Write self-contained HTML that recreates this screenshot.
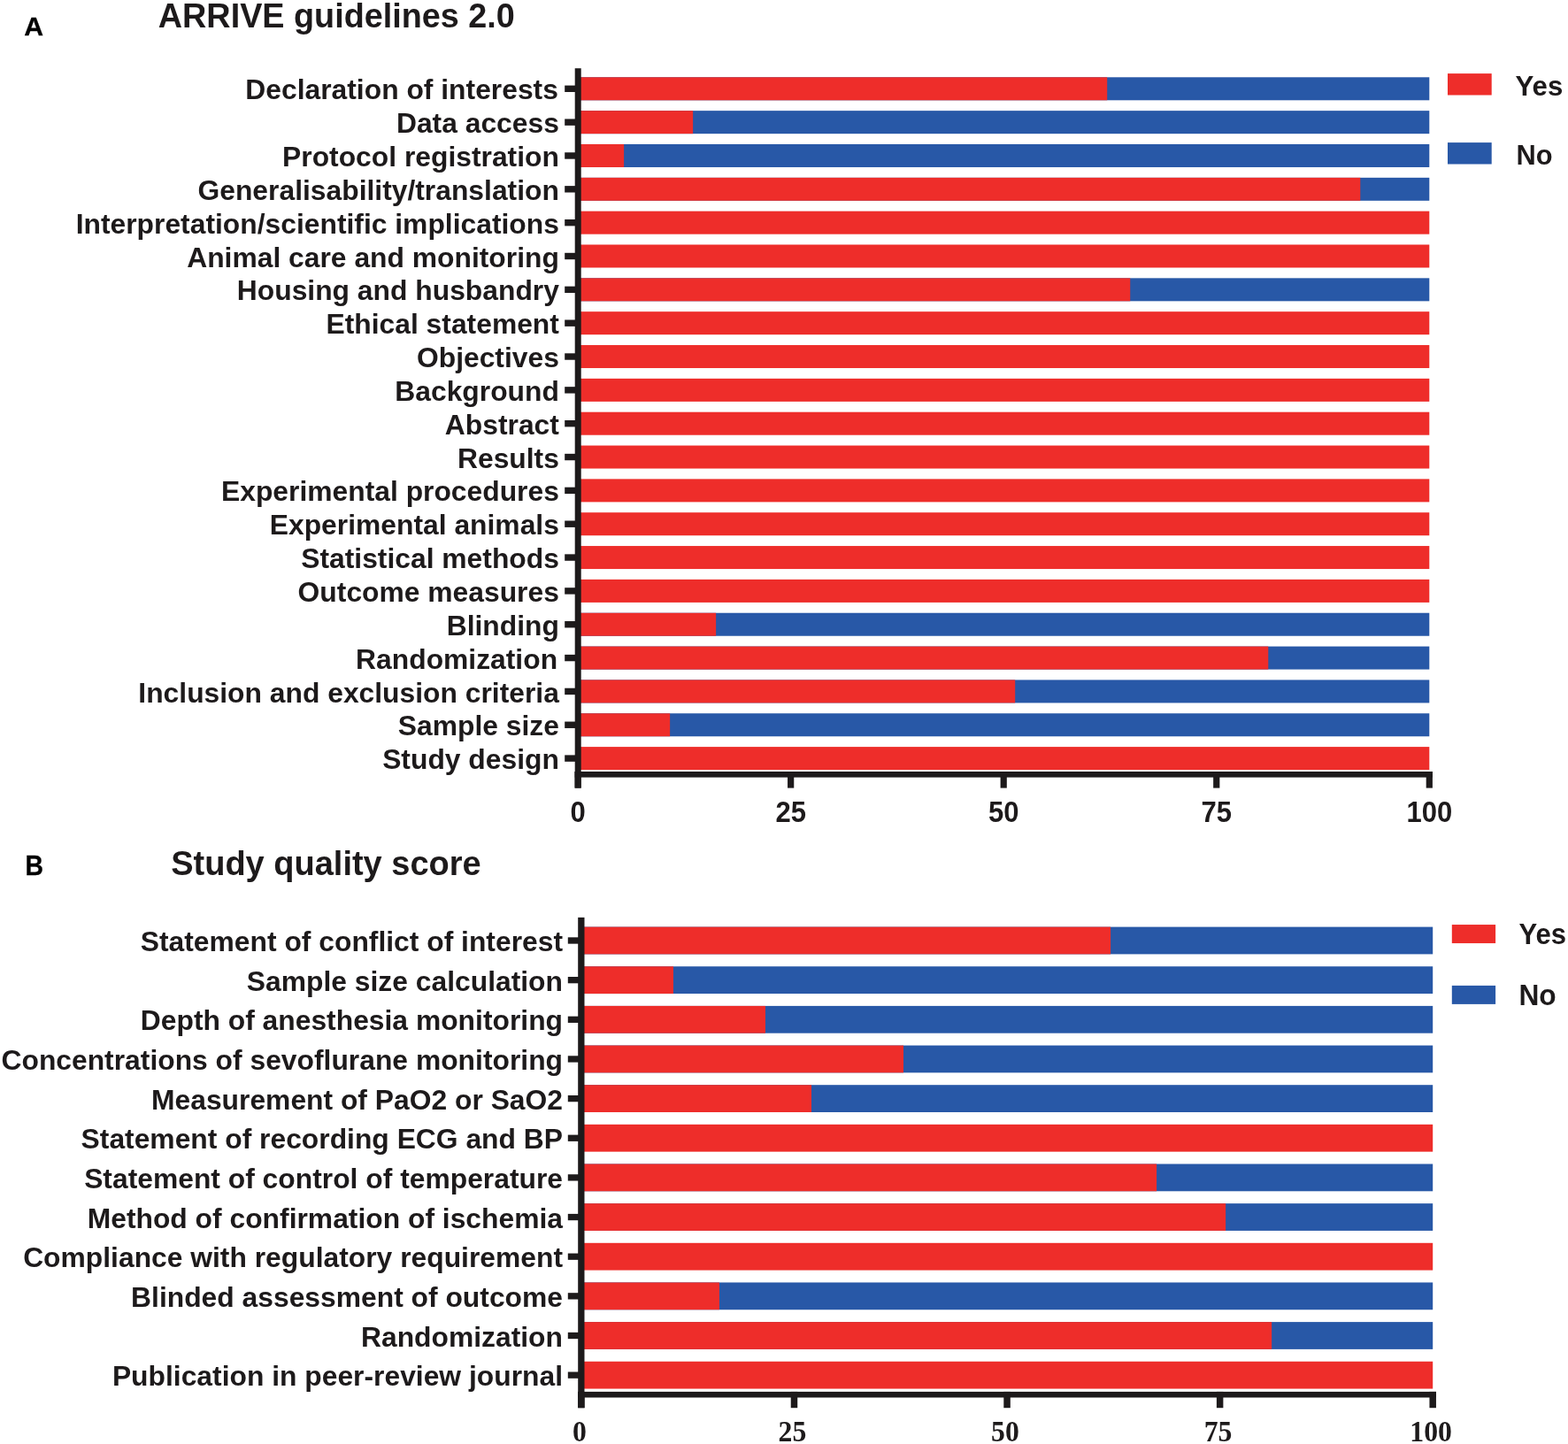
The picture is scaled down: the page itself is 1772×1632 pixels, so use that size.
<!DOCTYPE html>
<html lang="en">
<head>
<meta charset="utf-8">
<title>ARRIVE guidelines 2.0 / Study quality score</title>
<style>
html,body{margin:0;padding:0;background:#fff;}
body{width:1772px;height:1632px;overflow:hidden;}
svg{display:block;}
text{fill:#1d1a1b;white-space:pre;}
.s{font-family:"Liberation Sans",Arial,Helvetica,sans-serif;font-weight:bold;}
.t{font-family:"Liberation Serif","Times New Roman",Times,serif;font-weight:bold;}
</style>
</head>
<body>
<svg width="1772" height="1632" viewBox="0 0 1772 1632">
<rect x="0" y="0" width="1772" height="1632" fill="#ffffff"/>
<text transform="translate(27.30 39.85) scale(1.02 1.01)" font-size="29.6" class="s" style="fill:#000;stroke:#000;stroke-width:0.3px">A</text>
<text transform="translate(178.80 30.50) scale(1.0 1.02)" font-size="37.8" class="s">ARRIVE guidelines 2.0</text>
<rect x="655.70" y="87.30" width="959.60" height="26.00" fill="#2858a7"/>
<rect x="655.70" y="87.30" width="595.52" height="26.00" fill="#ee2d2a"/>
<rect x="638.20" y="96.60" width="12.50" height="7.40" fill="#1d1a1b"/>
<text x="630.90" y="112.40" font-size="31.82" class="s" text-anchor="end">Declaration of interests</text>
<rect x="655.70" y="125.14" width="959.60" height="26.00" fill="#2858a7"/>
<rect x="655.70" y="125.14" width="127.43" height="26.00" fill="#ee2d2a"/>
<rect x="638.20" y="134.44" width="12.50" height="7.40" fill="#1d1a1b"/>
<text x="631.90" y="150.24" font-size="31.82" class="s" text-anchor="end">Data access</text>
<rect x="655.70" y="162.98" width="959.60" height="26.00" fill="#2858a7"/>
<rect x="655.70" y="162.98" width="49.41" height="26.00" fill="#ee2d2a"/>
<rect x="638.20" y="172.28" width="12.50" height="7.40" fill="#1d1a1b"/>
<text x="631.90" y="188.08" font-size="31.82" class="s" text-anchor="end">Protocol registration</text>
<rect x="655.70" y="200.82" width="959.60" height="26.00" fill="#2858a7"/>
<rect x="655.70" y="200.82" width="881.58" height="26.00" fill="#ee2d2a"/>
<rect x="638.20" y="210.12" width="12.50" height="7.40" fill="#1d1a1b"/>
<text x="631.90" y="225.92" font-size="31.82" class="s" text-anchor="end">Generalisability/translation</text>
<rect x="655.70" y="238.66" width="959.60" height="26.00" fill="#ee2d2a"/>
<rect x="638.20" y="247.96" width="12.50" height="7.40" fill="#1d1a1b"/>
<text x="631.90" y="263.76" font-size="31.82" class="s" text-anchor="end">Interpretation/scientific implications</text>
<rect x="655.70" y="276.50" width="959.60" height="26.00" fill="#ee2d2a"/>
<rect x="638.20" y="285.80" width="12.50" height="7.40" fill="#1d1a1b"/>
<text x="631.90" y="301.60" font-size="31.82" class="s" text-anchor="end">Animal care and monitoring</text>
<rect x="655.70" y="314.34" width="959.60" height="26.00" fill="#2858a7"/>
<rect x="655.70" y="314.34" width="621.53" height="26.00" fill="#ee2d2a"/>
<rect x="638.20" y="323.64" width="12.50" height="7.40" fill="#1d1a1b"/>
<text x="631.90" y="339.44" font-size="31.82" class="s" text-anchor="end">Housing and husbandry</text>
<rect x="655.70" y="352.18" width="959.60" height="26.00" fill="#ee2d2a"/>
<rect x="638.20" y="361.48" width="12.50" height="7.40" fill="#1d1a1b"/>
<text x="631.90" y="377.28" font-size="31.82" class="s" text-anchor="end">Ethical statement</text>
<rect x="655.70" y="390.02" width="959.60" height="26.00" fill="#ee2d2a"/>
<rect x="638.20" y="399.32" width="12.50" height="7.40" fill="#1d1a1b"/>
<text x="631.90" y="415.12" font-size="31.82" class="s" text-anchor="end">Objectives</text>
<rect x="655.70" y="427.86" width="959.60" height="26.00" fill="#ee2d2a"/>
<rect x="638.20" y="437.16" width="12.50" height="7.40" fill="#1d1a1b"/>
<text x="631.90" y="452.96" font-size="31.82" class="s" text-anchor="end">Background</text>
<rect x="655.70" y="465.70" width="959.60" height="26.00" fill="#ee2d2a"/>
<rect x="638.20" y="475.00" width="12.50" height="7.40" fill="#1d1a1b"/>
<text x="631.90" y="490.80" font-size="31.82" class="s" text-anchor="end">Abstract</text>
<rect x="655.70" y="503.54" width="959.60" height="26.00" fill="#ee2d2a"/>
<rect x="638.20" y="512.84" width="12.50" height="7.40" fill="#1d1a1b"/>
<text x="631.90" y="528.64" font-size="31.82" class="s" text-anchor="end">Results</text>
<rect x="655.70" y="541.38" width="959.60" height="26.00" fill="#ee2d2a"/>
<rect x="638.20" y="550.68" width="12.50" height="7.40" fill="#1d1a1b"/>
<text x="631.90" y="566.48" font-size="31.82" class="s" text-anchor="end">Experimental procedures</text>
<rect x="655.70" y="579.22" width="959.60" height="26.00" fill="#ee2d2a"/>
<rect x="638.20" y="588.52" width="12.50" height="7.40" fill="#1d1a1b"/>
<text x="631.90" y="604.32" font-size="31.82" class="s" text-anchor="end">Experimental animals</text>
<rect x="655.70" y="617.06" width="959.60" height="26.00" fill="#ee2d2a"/>
<rect x="638.20" y="626.36" width="12.50" height="7.40" fill="#1d1a1b"/>
<text x="631.90" y="642.16" font-size="31.82" class="s" text-anchor="end">Statistical methods</text>
<rect x="655.70" y="654.90" width="959.60" height="26.00" fill="#ee2d2a"/>
<rect x="638.20" y="664.20" width="12.50" height="7.40" fill="#1d1a1b"/>
<text x="631.90" y="680.00" font-size="31.82" class="s" text-anchor="end">Outcome measures</text>
<rect x="655.70" y="692.74" width="959.60" height="26.00" fill="#2858a7"/>
<rect x="655.70" y="692.74" width="153.43" height="26.00" fill="#ee2d2a"/>
<rect x="638.20" y="702.04" width="12.50" height="7.40" fill="#1d1a1b"/>
<text x="631.90" y="717.84" font-size="31.82" class="s" text-anchor="end">Blinding</text>
<rect x="655.70" y="730.58" width="959.60" height="26.00" fill="#2858a7"/>
<rect x="655.70" y="730.58" width="777.56" height="26.00" fill="#ee2d2a"/>
<rect x="638.20" y="739.88" width="12.50" height="7.40" fill="#1d1a1b"/>
<text x="630.10" y="755.68" font-size="31.82" class="s" text-anchor="end">Randomization</text>
<rect x="655.70" y="768.42" width="959.60" height="26.00" fill="#2858a7"/>
<rect x="655.70" y="768.42" width="491.50" height="26.00" fill="#ee2d2a"/>
<rect x="638.20" y="777.72" width="12.50" height="7.40" fill="#1d1a1b"/>
<text x="631.90" y="793.52" font-size="31.82" class="s" text-anchor="end">Inclusion and exclusion criteria</text>
<rect x="655.70" y="806.26" width="959.60" height="26.00" fill="#2858a7"/>
<rect x="655.70" y="806.26" width="101.42" height="26.00" fill="#ee2d2a"/>
<rect x="638.20" y="815.56" width="12.50" height="7.40" fill="#1d1a1b"/>
<text x="631.90" y="831.36" font-size="31.82" class="s" text-anchor="end">Sample size</text>
<rect x="655.70" y="844.10" width="959.60" height="26.00" fill="#ee2d2a"/>
<rect x="638.20" y="853.40" width="12.50" height="7.40" fill="#1d1a1b"/>
<text x="631.90" y="869.20" font-size="31.82" class="s" text-anchor="end">Study design</text>
<rect x="649.70" y="77.20" width="7.00" height="813.40" fill="#1d1a1b"/>
<rect x="649.70" y="872.00" width="969.20" height="6.60" fill="#1d1a1b"/>
<rect x="649.50" y="872.00" width="7.20" height="18.60" fill="#1d1a1b"/>
<text transform="translate(653.10 929.00) scale(1.0 1.05)" font-size="31.0" class="s" text-anchor="middle">0</text>
<rect x="890.05" y="872.00" width="7.20" height="18.60" fill="#1d1a1b"/>
<text transform="translate(893.65 929.00) scale(1.0 1.05)" font-size="31.0" class="s" text-anchor="middle">25</text>
<rect x="1130.60" y="872.00" width="7.20" height="18.60" fill="#1d1a1b"/>
<text transform="translate(1134.20 929.00) scale(1.0 1.05)" font-size="31.0" class="s" text-anchor="middle">50</text>
<rect x="1371.15" y="872.00" width="7.20" height="18.60" fill="#1d1a1b"/>
<text transform="translate(1374.75 929.00) scale(1.0 1.05)" font-size="31.0" class="s" text-anchor="middle">75</text>
<rect x="1611.70" y="872.00" width="7.20" height="18.60" fill="#1d1a1b"/>
<text transform="translate(1615.30 929.00) scale(1.0 1.05)" font-size="31.0" class="s" text-anchor="middle">100</text>
<rect x="1636" y="83.1" width="49.7" height="24.4" fill="#ee2d2a"/>
<rect x="1636" y="161.1" width="49.7" height="24.4" fill="#2858a7"/>
<text transform="translate(1712.50 107.70) scale(0.985 1.015)" font-size="31.7" class="s">Yes</text>
<text transform="translate(1713.60 185.80) scale(0.972 1.015)" font-size="31.7" class="s">No</text>
<text transform="translate(28.60 988.75) scale(0.96 1.03)" font-size="29.6" class="s" style="fill:#000;stroke:#000;stroke-width:0.3px">B</text>
<text transform="translate(193.20 988.50) scale(1.0 1.02)" font-size="38" class="s">Study quality score</text>
<rect x="659.50" y="1047.60" width="959.70" height="30.80" fill="#2858a7"/>
<rect x="659.50" y="1047.60" width="595.59" height="30.80" fill="#ee2d2a"/>
<rect x="641.80" y="1059.35" width="12.40" height="7.30" fill="#1d1a1b"/>
<text x="636.00" y="1075.00" font-size="31.82" class="s" text-anchor="end">Statement of conflict of interest</text>
<rect x="659.50" y="1092.25" width="959.70" height="30.80" fill="#2858a7"/>
<rect x="659.50" y="1092.25" width="101.43" height="30.80" fill="#ee2d2a"/>
<rect x="641.80" y="1104.00" width="12.40" height="7.30" fill="#1d1a1b"/>
<text x="636.00" y="1119.65" font-size="31.82" class="s" text-anchor="end">Sample size calculation</text>
<rect x="659.50" y="1136.90" width="959.70" height="30.80" fill="#2858a7"/>
<rect x="659.50" y="1136.90" width="205.46" height="30.80" fill="#ee2d2a"/>
<rect x="641.80" y="1148.65" width="12.40" height="7.30" fill="#1d1a1b"/>
<text x="636.00" y="1164.30" font-size="31.82" class="s" text-anchor="end">Depth of anesthesia monitoring</text>
<rect x="659.50" y="1181.55" width="959.70" height="30.80" fill="#2858a7"/>
<rect x="659.50" y="1181.55" width="361.51" height="30.80" fill="#ee2d2a"/>
<rect x="641.80" y="1193.30" width="12.40" height="7.30" fill="#1d1a1b"/>
<text x="636.00" y="1208.95" font-size="31.82" class="s" text-anchor="end">Concentrations of sevoflurane monitoring</text>
<rect x="659.50" y="1226.20" width="959.70" height="30.80" fill="#2858a7"/>
<rect x="659.50" y="1226.20" width="257.48" height="30.80" fill="#ee2d2a"/>
<rect x="641.80" y="1237.95" width="12.40" height="7.30" fill="#1d1a1b"/>
<text x="636.00" y="1253.60" font-size="31.82" class="s" text-anchor="end">Measurement of PaO2 or SaO2</text>
<rect x="659.50" y="1270.85" width="959.70" height="30.80" fill="#ee2d2a"/>
<rect x="641.80" y="1282.60" width="12.40" height="7.30" fill="#1d1a1b"/>
<text x="636.00" y="1298.25" font-size="31.82" class="s" text-anchor="end">Statement of recording ECG and BP</text>
<rect x="659.50" y="1315.50" width="959.70" height="30.80" fill="#2858a7"/>
<rect x="659.50" y="1315.50" width="647.60" height="30.80" fill="#ee2d2a"/>
<rect x="641.80" y="1327.25" width="12.40" height="7.30" fill="#1d1a1b"/>
<text x="636.00" y="1342.90" font-size="31.82" class="s" text-anchor="end">Statement of control of temperature</text>
<rect x="659.50" y="1360.15" width="959.70" height="30.80" fill="#2858a7"/>
<rect x="659.50" y="1360.15" width="725.63" height="30.80" fill="#ee2d2a"/>
<rect x="641.80" y="1371.90" width="12.40" height="7.30" fill="#1d1a1b"/>
<text x="636.00" y="1387.55" font-size="31.82" class="s" text-anchor="end">Method of confirmation of ischemia</text>
<rect x="659.50" y="1404.80" width="959.70" height="30.80" fill="#ee2d2a"/>
<rect x="641.80" y="1416.55" width="12.40" height="7.30" fill="#1d1a1b"/>
<text x="636.00" y="1432.20" font-size="31.82" class="s" text-anchor="end">Compliance with regulatory requirement</text>
<rect x="659.50" y="1449.45" width="959.70" height="30.80" fill="#2858a7"/>
<rect x="659.50" y="1449.45" width="153.45" height="30.80" fill="#ee2d2a"/>
<rect x="641.80" y="1461.20" width="12.40" height="7.30" fill="#1d1a1b"/>
<text x="636.00" y="1476.85" font-size="31.82" class="s" text-anchor="end">Blinded assessment of outcome</text>
<rect x="659.50" y="1494.10" width="959.70" height="30.80" fill="#2858a7"/>
<rect x="659.50" y="1494.10" width="777.64" height="30.80" fill="#ee2d2a"/>
<rect x="641.80" y="1505.85" width="12.40" height="7.30" fill="#1d1a1b"/>
<text x="636.00" y="1521.50" font-size="31.82" class="s" text-anchor="end">Randomization</text>
<rect x="659.50" y="1538.75" width="959.70" height="30.80" fill="#ee2d2a"/>
<rect x="641.80" y="1550.50" width="12.40" height="7.30" fill="#1d1a1b"/>
<text x="636.00" y="1566.15" font-size="31.82" class="s" text-anchor="end">Publication in peer-review journal</text>
<rect x="653.20" y="1036.90" width="7.30" height="554.30" fill="#1d1a1b"/>
<rect x="653.20" y="1572.90" width="969.75" height="6.60" fill="#1d1a1b"/>
<rect x="653.15" y="1572.90" width="7.50" height="18.30" fill="#1d1a1b"/>
<text transform="translate(654.80 1629.20) scale(1.0 1.04)" font-size="31.7" class="t" text-anchor="middle">0</text>
<rect x="893.73" y="1572.90" width="7.50" height="18.30" fill="#1d1a1b"/>
<text transform="translate(895.38 1629.20) scale(1.0 1.04)" font-size="31.7" class="t" text-anchor="middle">25</text>
<rect x="1134.30" y="1572.90" width="7.50" height="18.30" fill="#1d1a1b"/>
<text transform="translate(1135.95 1629.20) scale(1.0 1.04)" font-size="31.7" class="t" text-anchor="middle">50</text>
<rect x="1374.88" y="1572.90" width="7.50" height="18.30" fill="#1d1a1b"/>
<text transform="translate(1376.53 1629.20) scale(1.0 1.04)" font-size="31.7" class="t" text-anchor="middle">75</text>
<rect x="1615.45" y="1572.90" width="7.50" height="18.30" fill="#1d1a1b"/>
<text transform="translate(1617.10 1629.20) scale(1.0 1.04)" font-size="31.7" class="t" text-anchor="middle">100</text>
<rect x="1640.8" y="1045.05" width="49.3" height="21" fill="#ee2d2a"/>
<rect x="1640.8" y="1113.9" width="49.3" height="21" fill="#2858a7"/>
<text transform="translate(1716.40 1067.00) scale(0.98 1.03)" font-size="31.7" class="s">Yes</text>
<text transform="translate(1716.40 1135.80) scale(1.0 1.03)" font-size="31.7" class="s">No</text>
</svg>
</body>
</html>
